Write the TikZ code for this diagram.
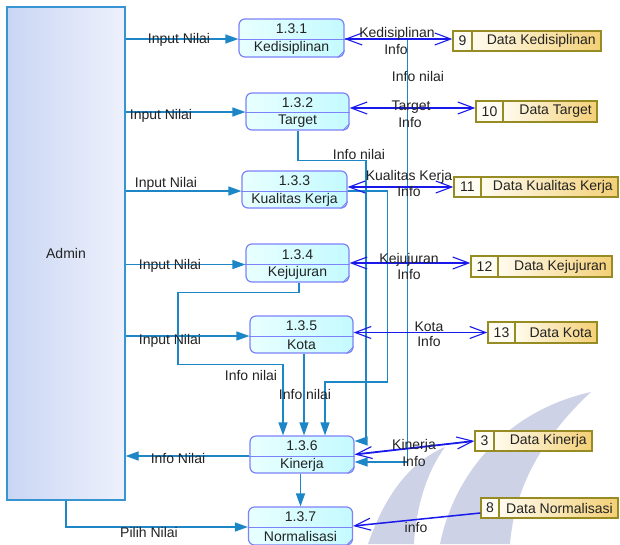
\documentclass[tikz,border=0pt]{standalone}
\usepackage{fontspec}
\setmainfont{Liberation Sans}
\usetikzlibrary{arrows.meta,calc}
\definecolor{lb}{RGB}{28,134,198}
\definecolor{bl}{RGB}{25,25,235}
\definecolor{pb}{RGB}{125,130,250}
\definecolor{pfa}{RGB}{232,255,255}
\definecolor{pfb}{RGB}{196,250,255}
\definecolor{ab}{RGB}{55,148,210}
\definecolor{afa}{RGB}{201,214,243}
\definecolor{afb}{RGB}{238,241,252}
\definecolor{sb}{RGB}{150,140,35}
\definecolor{sfz}{RGB}{255,253,242}
\definecolor{sfa}{RGB}{255,251,238}
\definecolor{sfb}{RGB}{244,208,118}
\definecolor{wm}{RGB}{206,210,231}
\definecolor{tx}{RGB}{35,35,35}
\tikzset{
  proc/.style={draw=pb, line width=1.2pt, rounded corners=6pt, left color=pfa, right color=pfb, inner sep=0pt},
  storebox/.style={draw=sb, line width=1.4pt, inner sep=0pt},
  txt/.style={text=tx, inner sep=0pt},
  flow/.style={lb, line width=1.3pt, -{Triangle[length=13pt,width=9pt]}},
  bio/.style={bl, line width=1.8pt, {Straight Barb[length=16pt,width=12pt,line width=1.1pt]}-{Straight Barb[length=16pt,width=12pt,line width=1.1pt]}},
  uni/.style={bl, line width=1.5pt, -{Straight Barb[length=16pt,width=12pt,line width=1.1pt]}}
}
% name, cx, cy, w, h, divider y, number, label
\newcommand\procbox[8]{%
  \node[proc, minimum width=#4pt, minimum height=#5pt] (#1) at (#2,#3) {};
  \coordinate (#1-dw) at ($(#1.west)+(0,#6-#3)$);
  \coordinate (#1-de) at ($(#1.east)+(0,#6-#3)$);
  \draw[pb, line width=1pt] (#1-dw) -- (#1-de);
  \draw[pb, line width=0.8pt] ($(#1.south east)+(-7,0)$) -- ($(#1.south east)+(0,-7)$);
  \node[txt] at (#2,{(#3-#5/2+#6)/2}) {#7};
  \node[txt] at (#2,{(#6+#3+#5/2)/2}) {#8};
}
% name, x1, y1, x2, y2, divider x, number, label
\newcommand\storenode[8]{%
  \fill[sfz] (#2,#3) rectangle (#6,#5);
  \shade[left color=sfa, right color=sfb] (#6,#3) rectangle (#4,#5);
  \pgfmathsetmacro\mysw{#4-#2}%
  \pgfmathsetmacro\mysh{#5-#3}%
  \node[storebox, minimum width=\mysw pt, minimum height=\mysh pt] (#1) at ({(#2+#4)/2},{(#3+#5)/2}) {};
  \draw[sb, line width=1.2pt] (#6,#3) -- (#6,#5);
  \node[txt] at ({(#2+#6)/2},{(#3+#5)/2}) {#7};
  \node[txt, anchor=east] at (#4-5,{(#3+#5)/2}) {#8};
}
\begin{document}
\begin{tikzpicture}[x=1pt, y=-1pt, font=\fontsize{14}{16}\selectfont]
\useasboundingbox (0,0) rectangle (620,544);
\clip (0,0) rectangle (620,544);
\fill[white] (0,0) rectangle (620,544);
% watermark
\fill[wm] (368,544) .. controls (385,495) and (410,462) .. (445,447) .. controls (428,470) and (416,505) .. (414,544) -- cycle;
\fill[wm] (440,544) .. controls (455,470) and (510,410) .. (591,392) .. controls (550,430) and (515,480) .. (510,544) -- cycle;
% admin
\node[draw=ab, line width=1.3pt, left color=afa, right color=afb, minimum width=118pt, minimum height=493pt, inner sep=0pt, text=tx] (admin) at (66,253.5) {Admin};
% processes
\procbox{p1}{291.5}{38}{105}{38}{39}{1.3.1}{Kedisiplinan}
\procbox{p2}{297.5}{111.5}{103}{37}{112}{1.3.2}{Target}
\procbox{p3}{294.5}{189.5}{105}{37}{191}{1.3.3}{Kualitas Kerja}
\procbox{p4}{297.5}{263}{103}{38}{264.5}{1.3.4}{Kejujuran}
\procbox{p5}{301.5}{334.5}{103}{37}{336}{1.3.5}{Kota}
\procbox{p6}{302}{454.5}{104}{37}{456}{1.3.6}{Kinerja}
\procbox{p7}{300.5}{526}{104}{38}{527}{1.3.7}{Normalisasi}
% stores
\storenode{s9}{453}{31}{601}{51}{472}{9}{Data Kedisiplinan}
\storenode{s10}{476}{101}{597}{122}{503}{10}{Data Target}
\storenode{s11}{454}{177}{618}{197}{481}{11}{Data Kualitas Kerja}
\storenode{s12}{471}{256}{612}{277}{498}{12}{Data Kejujuran}
\storenode{s13}{488}{322}{597}{343}{515}{13}{Data Kota}
\storenode{s3}{475}{431}{592}{451}{494}{3}{Data Kinerja}
\storenode{s8}{481}{498}{618}{518}{499}{8}{Data Normalisasi}
% admin flows
\draw[flow] (admin.east |- p1-dw) -- (p1-dw);
\draw[flow] (admin.east |- p2-dw) -- (p2-dw);
\draw[flow] (admin.east |- p3-dw) -- (p3-dw);
\draw[flow] (admin.east |- p4-dw) -- (p4-dw);
\draw[flow] (admin.east |- p5-dw) -- (p5-dw);
\draw[flow] (p6-dw) -- (admin.east |- p6-dw);
\draw[flow] (admin.south) |- (p7-dw);
\draw[flow] (p6.south -| p7.north) -- (p7.north);
% info nilai flows into 1.3.6
\draw[flow] (p1-de) -- ++(63,0) |- ($(p6.east)+(0,7.5)$);
\draw[flow] ($(p2.south)+(0.5,0)$) -- ++(0,30) -- ++(68,0) |- ($(p6.east)+(0,-13.5)$);
\draw[flow] (p3-de) -- ++(40,0) -- ++(0,191) -| ($(p6.north)+(23,0)$);
\draw[flow] ($(p4.south)+(1.5,0)$) -- ++(0,10) -- ++(-121,0) -- ++(0,72) -| ($(p6.north)+(-19,0)$);
\draw[flow] ($(p5.south)+(2.5,0)$) -- ($(p6.north)+(2,0)$);
% data store flows
\draw[bio] (p1-de) -- (s9.west |- p1-de);
\draw[bio] ($(p2.east)+(0,-3.5)$) -- ($(s10.west)+(0,-3.5)$);
\draw[bio] (p3.east |- s11.west) -- (s11.west);
\draw[bio] (p4.east) -- (s12.west |- p4.east);
\draw[bio] (p5.east |- s13.west) -- (s13.west);
\draw[bio] (p6.east) -- (s3.west);
\draw[uni] ($(s8.west)+(0,5)$) -- (p7.east);
% labels
\node[txt] at (179,40) {Input Nilai};
\node[txt] at (161,116) {Input Nilai};
\node[txt] at (166,184) {Input Nilai};
\node[txt] at (170,266) {Input Nilai};
\node[txt] at (170,341) {Input Nilai};
\node[txt] at (178,458) {Info Nilai};
\node[txt] at (149,532) {Pilih Nilai};
\node[txt] at (418,76) {Info nilai};
\node[txt] at (359,154) {Info nilai};
\node[txt] at (251,375) {Info nilai};
\node[txt] at (305,394) {Info nilai};
\node[txt] at (397,34) {Kedisiplinan};
\node[txt] at (396,49) {Info};
\node[txt] at (411,107) {Target};
\node[txt] at (410,122) {Info};
\node[txt] at (409,177) {Kualitas Kerja};
\node[txt] at (409,191) {Info};
\node[txt] at (409,260) {Kejujuran};
\node[txt] at (409,274) {Info};
\node[txt] at (429,327) {Kota};
\node[txt] at (429,341) {Info};
\node[txt] at (414,446) {Kinerja};
\node[txt] at (414,461) {Info};
\node[txt] at (416,527) {info};
\end{tikzpicture}
\end{document}
